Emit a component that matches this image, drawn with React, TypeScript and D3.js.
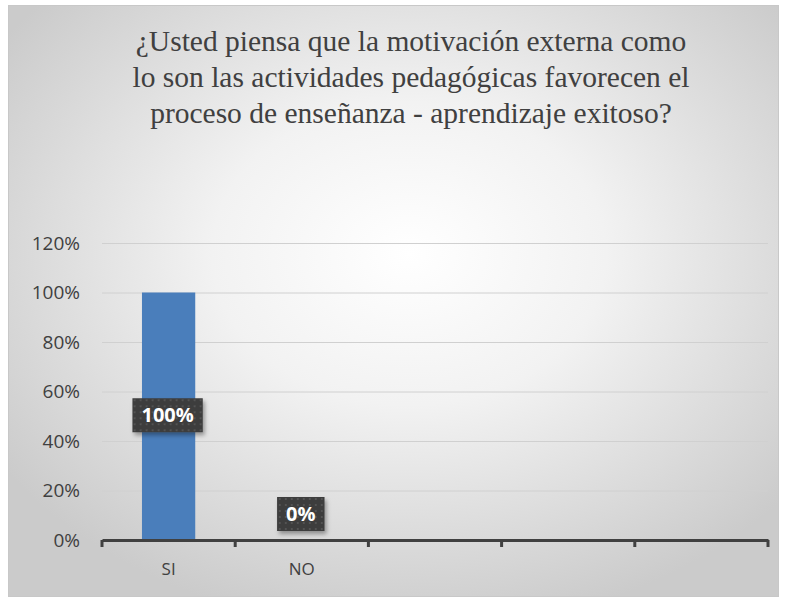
import * as d3 from "d3";
import React, { useEffect, useRef } from "react";

const titleLines = [
  "¿Usted piensa que la motivación externa como",
  "lo son las actividades pedagógicas favorecen el",
  "proceso de enseñanza - aprendizaje exitoso?",
];
const categories = ["SI", "NO", "c3", "c4", "c5"];
const categoryLabels = ["SI", "NO", "", "", ""];
const values: (number | null)[] = [1, 0, null, null, null];
const yTicks = [0, 0.2, 0.4, 0.6, 0.8, 1, 1.2];

export default function App() {
  const ref = useRef<SVGSVGElement>(null);
  const width = 786;
  const height = 598;
  const marginLeft = 102;
  const marginRight = 18;
  const marginTop = 243;
  const marginBottom = 58;

  useEffect(() => {
    const svg = d3.select(ref.current);
    svg.selectAll("*").remove();

    const defs = svg.append("defs");
    const grad = defs
      .append("radialGradient")
      .attr("id", "bg")
      .attr("cx", "52%")
      .attr("cy", "42%")
      .attr("r", "64%");
    grad.append("stop").attr("offset", "0%").attr("stop-color", "#ffffff");
    grad.append("stop").attr("offset", "40%").attr("stop-color", "#f2f2f2");
    grad.append("stop").attr("offset", "100%").attr("stop-color", "#cbcbcb");

    const pat = defs
      .append("pattern")
      .attr("id", "dots")
      .attr("width", 6)
      .attr("height", 6)
      .attr("patternUnits", "userSpaceOnUse");
    pat.append("rect").attr("width", 6).attr("height", 6).attr("fill", "#3c3c3c");
    pat.append("rect").attr("x", 2).attr("y", 2).attr("width", 2).attr("height", 2).attr("fill", "#525252");

    const shadow = defs.append("filter").attr("id", "shadow").attr("x", "-20%").attr("y", "-20%").attr("width", "150%").attr("height", "150%");
    shadow
      .append("feDropShadow")
      .attr("dx", 2)
      .attr("dy", 3)
      .attr("stdDeviation", 2)
      .attr("flood-color", "#000")
      .attr("flood-opacity", 0.35);

    svg
      .append("rect")
      .attr("x", 8.5)
      .attr("y", 5.5)
      .attr("width", 770)
      .attr("height", 591)
      .attr("fill", "url(#bg)")
      .attr("stroke", "#c8c8c8");

    svg
      .append("g")
      .selectAll("text")
      .data(titleLines)
      .join("text")
      .attr("x", 411)
      .attr("y", (d, i) => 51 + i * 36)
      .attr("text-anchor", "middle")
      .attr("font-family", "'Liberation Serif', 'Times New Roman', serif")
      .attr("font-size", 29.5)
      .attr("fill", "#404040")
      .text((d) => d);

    const x = d3
      .scaleBand()
      .domain(categories)
      .range([marginLeft, width - marginRight]);

    const y = d3
      .scaleLinear()
      .domain([0, 1.2])
      .range([height - marginBottom, marginTop]);

    // gridlines + y labels
    const yAxis = svg
      .append("g")
      .attr("transform", `translate(${marginLeft},0)`)
      .call(
        d3
          .axisLeft(y)
          .tickValues(yTicks)
          .tickFormat(d3.format(".0%"))
          .tickSizeInner(-(width - marginLeft - marginRight))
          .tickSizeOuter(0)
          .tickPadding(22)
      );
    yAxis.select(".domain").remove();
    yAxis.selectAll("line").attr("stroke", "#d0d0d0");
    yAxis
      .selectAll("text")
      .attr("font-family", "'Open Sans', Calibri, sans-serif")
      .attr("font-size", 19)
      .attr("fill", "#404040");

    const barW = x.bandwidth() * 0.4;
    svg
      .append("g")
      .selectAll("rect")
      .data(values.map((v, i) => ({ c: categories[i], v })).filter((d) => d.v != null && d.v > 0))
      .join("rect")
      .attr("x", (d) => x(d.c)! + x.bandwidth() / 2 - barW / 2)
      .attr("y", (d) => y(d.v as number))
      .attr("width", barW)
      .attr("height", (d) => y(0) - y(d.v as number))
      .attr("fill", "#4a7ebb");

    // x axis
    const xAxis = svg
      .append("g")
      .attr("transform", `translate(0,${y(0)})`)
      .call(
        d3
          .axisBottom(x)
          .tickSize(0)
          .tickPadding(23)
          .tickFormat((d, i) => categoryLabels[i])
      );
    xAxis.select(".domain").attr("stroke", "#404040").attr("stroke-width", 3);
    xAxis
      .selectAll("text")
      .attr("font-family", "'Open Sans', Calibri, sans-serif")
      .attr("font-size", 17)
      .attr("fill", "#404040");
    xAxis
      .append("g")
      .selectAll("line")
      .data([...categories.map((c) => x(c)!), x.range()[1]])
      .join("line")
      .attr("x1", (d) => d)
      .attr("x2", (d) => d)
      .attr("y1", 0)
      .attr("y2", 7)
      .attr("stroke", "#404040")
      .attr("stroke-width", 3);

    // data labels
    const labelData = values
      .map((v, i) => ({ c: categories[i], v }))
      .filter((d) => d.v != null);
    const labels = svg
      .append("g")
      .selectAll("g")
      .data(labelData)
      .join("g")
      .attr("transform", (d) => {
        const cx = x(d.c)! + x.bandwidth() / 2 - 1;
        const cy = (d.v as number) > 0 ? (y(d.v as number) + y(0)) / 2 - 1 : y(0) - 26;
        return `translate(${cx},${cy})`;
      });
    labels.each(function (d) {
      const g = d3.select(this);
      const t = d3.format(".0%")(d.v as number);
      const rect = g.append("rect").attr("fill", "url(#dots)").attr("filter", "url(#shadow)");
      const txt = g
        .append("text")
        .attr("text-anchor", "middle")
        .attr("dy", "0.36em")
        .attr("font-family", "'Open Sans', Calibri, sans-serif")
        .attr("font-weight", "bold")
        .attr("font-size", 20)
        .attr("fill", "#ffffff")
        .text(t);
      const w = (txt.node() as SVGTextElement).getComputedTextLength() + 18;
      rect.attr("x", -w / 2).attr("y", -17).attr("width", w).attr("height", 34);
    });
  }, []);

  return (
    <svg
      ref={ref}
      width={width}
      height={height}
      style={{ position: "absolute", left: 0, top: 0 }}
    />
  );
}
